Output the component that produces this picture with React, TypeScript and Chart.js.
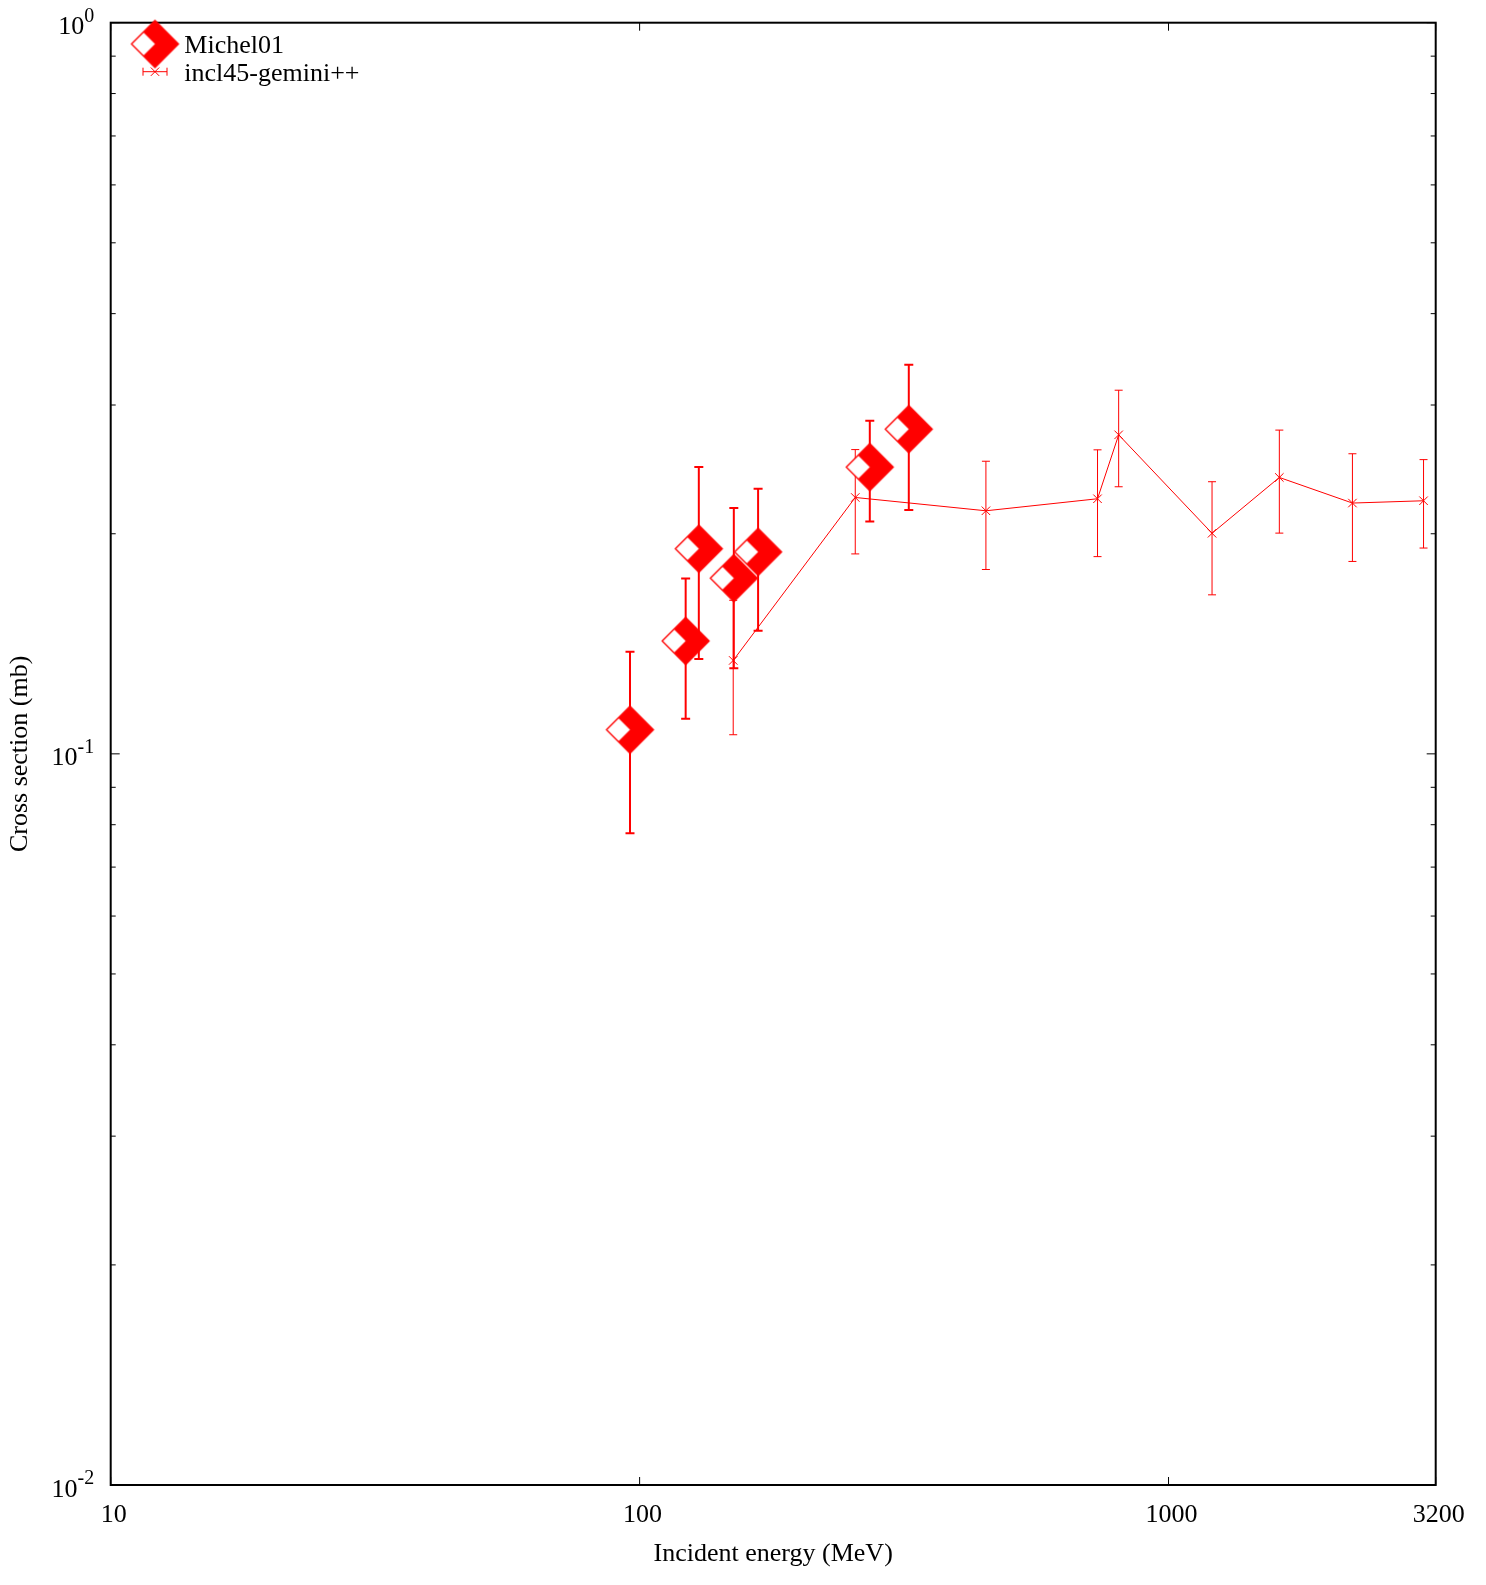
import { useEffect, useRef } from "react";
import { Chart, registerables } from "chart.js";

Chart.register(...registerables);

// ---- data ----
const michelEnergy = [95.9, 122.2, 129.4, 150.7, 167.5, 272.4, 322.8];
const michelXs = [0.1079, 0.1427, 0.1908, 0.1739, 0.1889, 0.2467, 0.278];
const michelErr = [0.03, 0.031, 0.056, 0.043, 0.0415, 0.0388, 0.0625];

const inclEnergy = [150.3, 255.7, 451.6, 734.1, 804.9, 1208.6, 1620, 2227, 3035];
const inclXs = [0.1342, 0.2242, 0.215, 0.2233, 0.2731, 0.2003, 0.2388, 0.2203, 0.2219];
const inclErr = [0.028, 0.0365, 0.0363, 0.0372, 0.0412, 0.0353, 0.0384, 0.037, 0.0307];

const xTickValues = [10, 100, 1000, 3200];
const xTickLabels = ["10", "100", "1000", "3200"];
const yMajorValues = [0.01, 0.1, 1];
const yMajorExponents = ["-2", "-1", "0"];
const yMinorValues = [
  0.02, 0.03, 0.04, 0.05, 0.06, 0.07, 0.08, 0.09,
  0.2, 0.3, 0.4, 0.5, 0.6, 0.7, 0.8, 0.9,
];
const seriesLabels = ["Michel01", "incl45-gemini++"];
const xTitle = "Incident energy (MeV)";
const yTitle = "Cross section (mb)";

const FONT = "Liberation Serif";
const RED = "#ff0000";

function makeDiamond(r: number): HTMLCanvasElement {
  const s = Math.ceil(2 * r + 4);
  const c = document.createElement("canvas");
  c.width = s;
  c.height = s;
  const g = c.getContext("2d")!;
  const m = s / 2;
  const path = () => {
    g.beginPath();
    g.moveTo(m - r, m);
    g.lineTo(m, m - r);
    g.lineTo(m + r, m);
    g.lineTo(m, m + r);
    g.closePath();
  };
  g.fillStyle = RED;
  path();
  g.fill();
  g.fillStyle = "#ffffff";
  g.beginPath();
  g.moveTo(m - r, m);
  g.lineTo(m - r / 2, m - r / 2);
  g.lineTo(m, m);
  g.lineTo(m - r / 2, m + r / 2);
  g.closePath();
  g.fill();
  g.strokeStyle = RED;
  g.lineWidth = 1.3;
  path();
  g.stroke();
  return c;
}

export default function App() {
  const ref = useRef<HTMLCanvasElement>(null);

  useEffect(() => {
    if (!ref.current) return;
    const diamond = makeDiamond(23.5);

    const errorBars = {
      id: "errorBars",
      beforeDatasetsDraw(chart: any) {
        const { ctx, chartArea, scales } = chart;
        const xs = scales.x;
        const ys = scales.y;
        ctx.save();
        ctx.beginPath();
        ctx.rect(chartArea.left, chartArea.top, chartArea.right - chartArea.left, chartArea.bottom - chartArea.top);
        ctx.clip();
        ctx.strokeStyle = RED;
        // incl45 bars
        ctx.lineWidth = 1;
        inclEnergy.forEach((e, i) => {
          const px = xs.getPixelForValue(e);
          const y1 = ys.getPixelForValue(inclXs[i] + inclErr[i]);
          const y2 = ys.getPixelForValue(inclXs[i] - inclErr[i]);
          ctx.beginPath();
          ctx.moveTo(px, y1);
          ctx.lineTo(px, y2);
          ctx.moveTo(px - 4, y1);
          ctx.lineTo(px + 4, y1);
          ctx.moveTo(px - 4, y2);
          ctx.lineTo(px + 4, y2);
          ctx.stroke();
        });
        // Michel bars
        ctx.lineWidth = 2;
        michelEnergy.forEach((e, i) => {
          const px = xs.getPixelForValue(e);
          const y1 = ys.getPixelForValue(michelXs[i] + michelErr[i]);
          const y2 = ys.getPixelForValue(michelXs[i] - michelErr[i]);
          ctx.beginPath();
          ctx.moveTo(px, y1);
          ctx.lineTo(px, y2);
          ctx.moveTo(px - 4.5, y1);
          ctx.lineTo(px + 4.5, y1);
          ctx.moveTo(px - 4.5, y2);
          ctx.lineTo(px + 4.5, y2);
          ctx.stroke();
        });
        ctx.restore();
      },
    };

    const frame = {
      id: "frame",
      afterDraw(chart: any) {
        const { ctx, chartArea, scales } = chart;
        const { left, right, top, bottom } = chartArea;
        const xs = scales.x;
        const ys = scales.y;
        ctx.save();
        // ticks
        ctx.strokeStyle = "#000";
        ctx.lineWidth = 1;
        ctx.beginPath();
        yMajorValues.forEach((v) => {
          const py = ys.getPixelForValue(v);
          ctx.moveTo(left, py);
          ctx.lineTo(left + 9, py);
          ctx.moveTo(right, py);
          ctx.lineTo(right - 9, py);
        });
        yMinorValues.forEach((v) => {
          const py = ys.getPixelForValue(v);
          ctx.moveTo(left, py);
          ctx.lineTo(left + 5, py);
          ctx.moveTo(right, py);
          ctx.lineTo(right - 5, py);
        });
        xTickValues.forEach((v) => {
          const px = xs.getPixelForValue(v);
          ctx.moveTo(px, bottom);
          ctx.lineTo(px, bottom - 8);
          ctx.moveTo(px, top);
          ctx.lineTo(px, top + 8);
        });
        ctx.stroke();
        // frame
        ctx.lineWidth = 2;
        ctx.strokeRect(left, top, right - left, bottom - top);

        // tick labels
        ctx.fillStyle = "#000";
        ctx.textBaseline = "alphabetic";
        ctx.textAlign = "center";
        ctx.font = `26px "${FONT}"`;
        xTickValues.forEach((v, i) => {
          const px = xs.getPixelForValue(v);
          ctx.fillText(xTickLabels[i], px + 3, bottom + 36.5);
        });
        ctx.textAlign = "left";
        const rightEdge = left - 16.5;
        yMajorValues.forEach((v, i) => {
          const py = ys.getPixelForValue(v);
          ctx.font = `20px "${FONT}"`;
          const w2 = ctx.measureText(yMajorExponents[i]).width;
          ctx.font = `26px "${FONT}"`;
          const w1 = ctx.measureText("10").width;
          ctx.fillText("10", rightEdge - w2 - w1, py + 11.5);
          ctx.font = `20px "${FONT}"`;
          ctx.fillText(yMajorExponents[i], rightEdge - w2, py - 1);
        });

        // axis titles
        ctx.font = `26px "${FONT}"`;
        ctx.textAlign = "center";
        ctx.fillText(xTitle, (left + right) / 2, bottom + 76);
        ctx.save();
        ctx.translate(19, (top + bottom) / 2);
        ctx.rotate(-Math.PI / 2);
        ctx.fillText(yTitle, 0, 0);
        ctx.restore();

        // legend
        const lx = 147;
        const ly1 = 36;
        const ly2 = 63.7;
        ctx.strokeStyle = RED;
        ctx.lineWidth = 2;
        ctx.beginPath();
        ctx.moveTo(lx - 12, ly1);
        ctx.lineTo(lx + 12, ly1);
        ctx.moveTo(lx - 12, ly1 - 4);
        ctx.lineTo(lx - 12, ly1 + 4);
        ctx.moveTo(lx + 12, ly1 - 4);
        ctx.lineTo(lx + 12, ly1 + 4);
        ctx.stroke();
        ctx.drawImage(diamond, lx - diamond.width / 2, ly1 - diamond.height / 2);
        ctx.lineWidth = 1;
        ctx.beginPath();
        ctx.moveTo(lx - 12, ly2);
        ctx.lineTo(lx + 12, ly2);
        ctx.moveTo(lx - 12, ly2 - 4);
        ctx.lineTo(lx - 12, ly2 + 4);
        ctx.moveTo(lx + 12, ly2 - 4);
        ctx.lineTo(lx + 12, ly2 + 4);
        ctx.moveTo(lx - 4.2, ly2 - 4.2);
        ctx.lineTo(lx + 4.2, ly2 + 4.2);
        ctx.moveTo(lx - 4.2, ly2 + 4.2);
        ctx.lineTo(lx + 4.2, ly2 - 4.2);
        ctx.stroke();
        ctx.fillStyle = "#000";
        ctx.textAlign = "left";
        ctx.font = `26px "${FONT}"`;
        ctx.fillText(seriesLabels[0], 176.3, 45.3);
        ctx.fillText(seriesLabels[1], 176.3, 73);
        ctx.restore();
      },
    };

    const chart = new Chart(ref.current, {
      type: "scatter",
      data: {
        datasets: [
          {
            label: seriesLabels[0],
            data: michelEnergy.map((x, i) => ({ x, y: michelXs[i] })),
            showLine: false,
            pointStyle: diamond as any,
            pointRadius: 12,
            pointHoverRadius: 12,
            borderColor: RED,
            backgroundColor: RED,
            order: 2,
          },
          {
            label: seriesLabels[1],
            data: inclEnergy.map((x, i) => ({ x, y: inclXs[i] })),
            showLine: true,
            borderColor: RED,
            backgroundColor: RED,
            borderWidth: 1,
            pointStyle: "crossRot",
            pointRadius: 6,
            pointHoverRadius: 6,
            pointBorderColor: RED,
            pointBorderWidth: 1,
            tension: 0,
            order: 1,
          } as any,
        ],
      },
      options: {
        responsive: false,
        animation: false,
        events: [],
        layout: { padding: { left: 102.7, top: 14.7, right: 42.3, bottom: 92 } },
        plugins: { legend: { display: false }, tooltip: { enabled: false } },
        scales: {
          x: {
            type: "logarithmic",
            min: 10,
            max: 3200,
            display: false,
            afterBuildTicks: (s: any) => {
              s.min = 10;
              s.max = 3200;
            },
          },
          y: {
            type: "logarithmic",
            min: 0.01,
            max: 1,
            display: false,
            afterBuildTicks: (s: any) => {
              s.min = 0.01;
              s.max = 1;
            },
          },
        },
      },
      plugins: [errorBars, frame],
    });
    return () => chart.destroy();
  }, []);

  return (
    <div style={{ width: 1470, height: 1569 }}>
      <canvas ref={ref} width={1470} height={1569} style={{ display: "block" }} />
    </div>
  );
}
